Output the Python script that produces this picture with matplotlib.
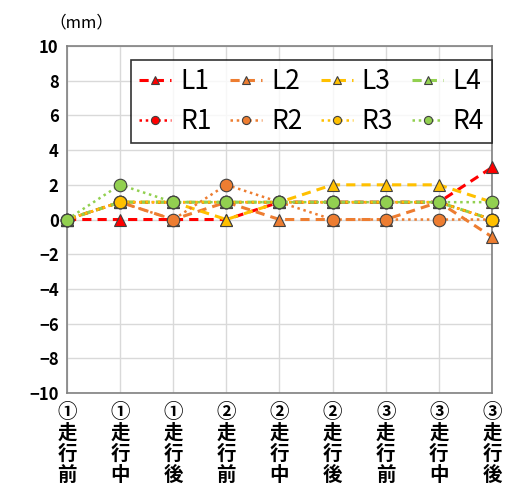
import matplotlib
matplotlib.use("Agg")
import matplotlib.pyplot as plt

plt.rcParams['font.family'] = ['Noto Sans CJK JP', 'DejaVu Sans']

categories = ["①\n走\n行\n前", "①\n走\n行\n中", "①\n走\n行\n後",
              "②\n走\n行\n前", "②\n走\n行\n中", "②\n走\n行\n後",
              "③\n走\n行\n前", "③\n走\n行\n中", "③\n走\n行\n後"]

L1 = [0, 0, 0, 0, 1, 1, 1, 1, 3]
L2 = [0, 1, 0, 1, 0, 0, 0, 1, -1]
L3 = [0, 1, 1, 0, 1, 2, 2, 2, 1]
L4 = [0, 1, 1, 1, 1, 1, 1, 1, 0]
R1 = [0, 1, 1, 1, 1, 1, 1, 1, 0]
R2 = [0, 1, 0, 2, 1, 0, 0, 0, 0]
R3 = [0, 1, 1, 1, 1, 1, 1, 1, 0]
R4 = [0, 2, 1, 1, 1, 1, 1, 1, 1]

yticks = list(range(-10, 11, 2))

colors = {"1": "#FF0000", "2": "#ED7D31", "3": "#FFC000", "4": "#92D050"}

fig = plt.figure(figsize=(5.06, 4.98), dpi=100)
ax = fig.add_axes([0.1324, 0.2108, 0.8399, 0.6968])

x = list(range(len(categories)))

series_L = [("L1", L1), ("L2", L2), ("L3", L3), ("L4", L4)]
series_R = [("R1", R1), ("R2", R2), ("R3", R3), ("R4", R4)]

hL, hR = [], []
for name, vals in series_L:
    h, = ax.plot(x, vals, linestyle=(0, (3, 2)), lw=2.2, color=colors[name[1]],
                 marker='^', ms=8.5, mfc=colors[name[1]], mec='#404040', mew=0.8,
                 label=name, clip_on=False, zorder=3)
    hL.append(h)
for name, vals in series_R:
    h, = ax.plot(x, vals, linestyle=(0, (1, 1.5)), lw=1.8, color=colors[name[1]],
                 marker='o', ms=9, mfc=colors[name[1]], mec='#404040', mew=0.8,
                 label=name, clip_on=False, zorder=4)
    hR.append(h)

ax.set_xlim(0, 8)
ax.set_ylim(-10, 10)
ax.set_yticks(yticks)
ax.set_yticklabels([str(v) if v >= 0 else "\u2212" + str(-v) for v in yticks],
                   fontsize=12, fontweight='bold')
ax.set_xticks(x)
ax.set_xticklabels(categories, fontsize=14, fontweight='bold', linespacing=1.12)
ax.tick_params(axis='both', length=0, pad=6)
ax.tick_params(axis='x', pad=7)

ax.grid(True, color='#D9D9D9', lw=1.0)
ax.set_axisbelow(True)
for s in ax.spines.values():
    s.set_color('#808080')
    s.set_linewidth(1.2)

# legend is filled column by column, so interleave to get L row over R row
handles = [h for pair in zip(hL, hR) for h in pair]
leg = ax.legend(handles, [h.get_label() for h in handles], ncol=4,
                loc='upper right', bbox_to_anchor=(1.0, 0.96),
                borderaxespad=0, fontsize=19, frameon=True, fancybox=False,
                handlelength=1.2, handletextpad=0.35, columnspacing=0.7,
                markerscale=0.65, borderpad=0.3, labelspacing=0.5)
leg.get_frame().set_edgecolor('black')
leg.get_frame().set_linewidth(1.2)
leg.set_zorder(10)

fig.text(0.16, 0.955, "（mm）", fontsize=12, ha='center', va='center')

fig.savefig("out.png", dpi=100)
